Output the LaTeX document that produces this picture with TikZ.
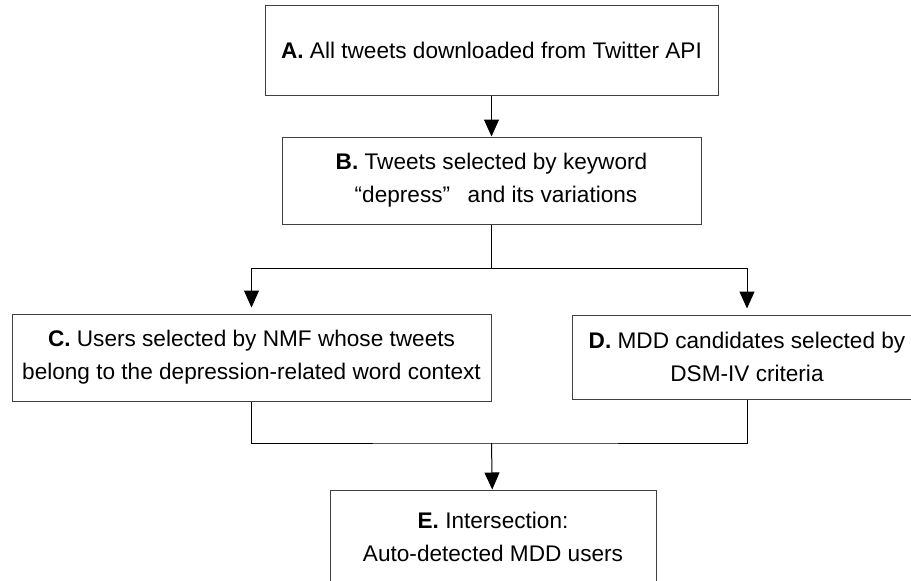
\documentclass[tikz,border=0pt]{standalone}
\usepackage{fontspec}
\setmainfont{Liberation Sans}
\usetikzlibrary{arrows.meta}

\begin{document}
\begin{tikzpicture}[x=1pt, y=-1pt,
    box/.style={draw=black!75, line width=1pt, align=center, inner sep=0pt,
        font=\fontsize{22.6}{33}\selectfont},
    link/.style={draw=black, line width=1pt},
    arr/.style={link, -{Triangle[length=17pt,width=15pt]}}]
    \useasboundingbox (0,0) rectangle (911,581);
    \clip (0,0) rectangle (911,581);

    \node[box, minimum width=453pt, minimum height=90pt] (tweetsA) at (491.5,50)
        {\textbf{A.} All tweets downloaded from Twitter API};
    \node[box, minimum width=419pt, minimum height=87pt] (tweetsB) at (491.5,180.5)
        {\textbf{B.} Tweets selected by keyword\\
         \hspace*{0.4em}“depress”\hspace{0.5em} and its variations};
    \node[box, minimum width=479pt, minimum height=87pt] (usersC) at (251.5,357.5)
        {\textbf{C.} Users selected by NMF whose tweets\\
         belong to the depression-related word context};
    \node[box, minimum width=350pt, minimum height=84pt] (mddD) at (747,357)
        {\textbf{D.} MDD candidates selected by\\ DSM-IV criteria};
    \node[box, minimum width=326pt, minimum height=93pt] (mddE) at (493,536.5)
        {\textbf{E.} Intersection:\\ Auto-detected MDD users};

    \coordinate (split) at (491.5,268);
    \coordinate (merge) at (491.5,443);

    \draw[arr] (tweetsA) -- (tweetsB);
    \draw[link] (tweetsB) -- (split);
    \draw[arr, shorten >=6pt] (split) -| (usersC.north);
    \draw[arr, shorten >=6pt] (split) -| (mddD.north);
    \draw[link] (usersC.south) |- (merge) -| (mddD.south);
    \draw[arr] (merge) -- (mddE);
\end{tikzpicture}
\end{document}
